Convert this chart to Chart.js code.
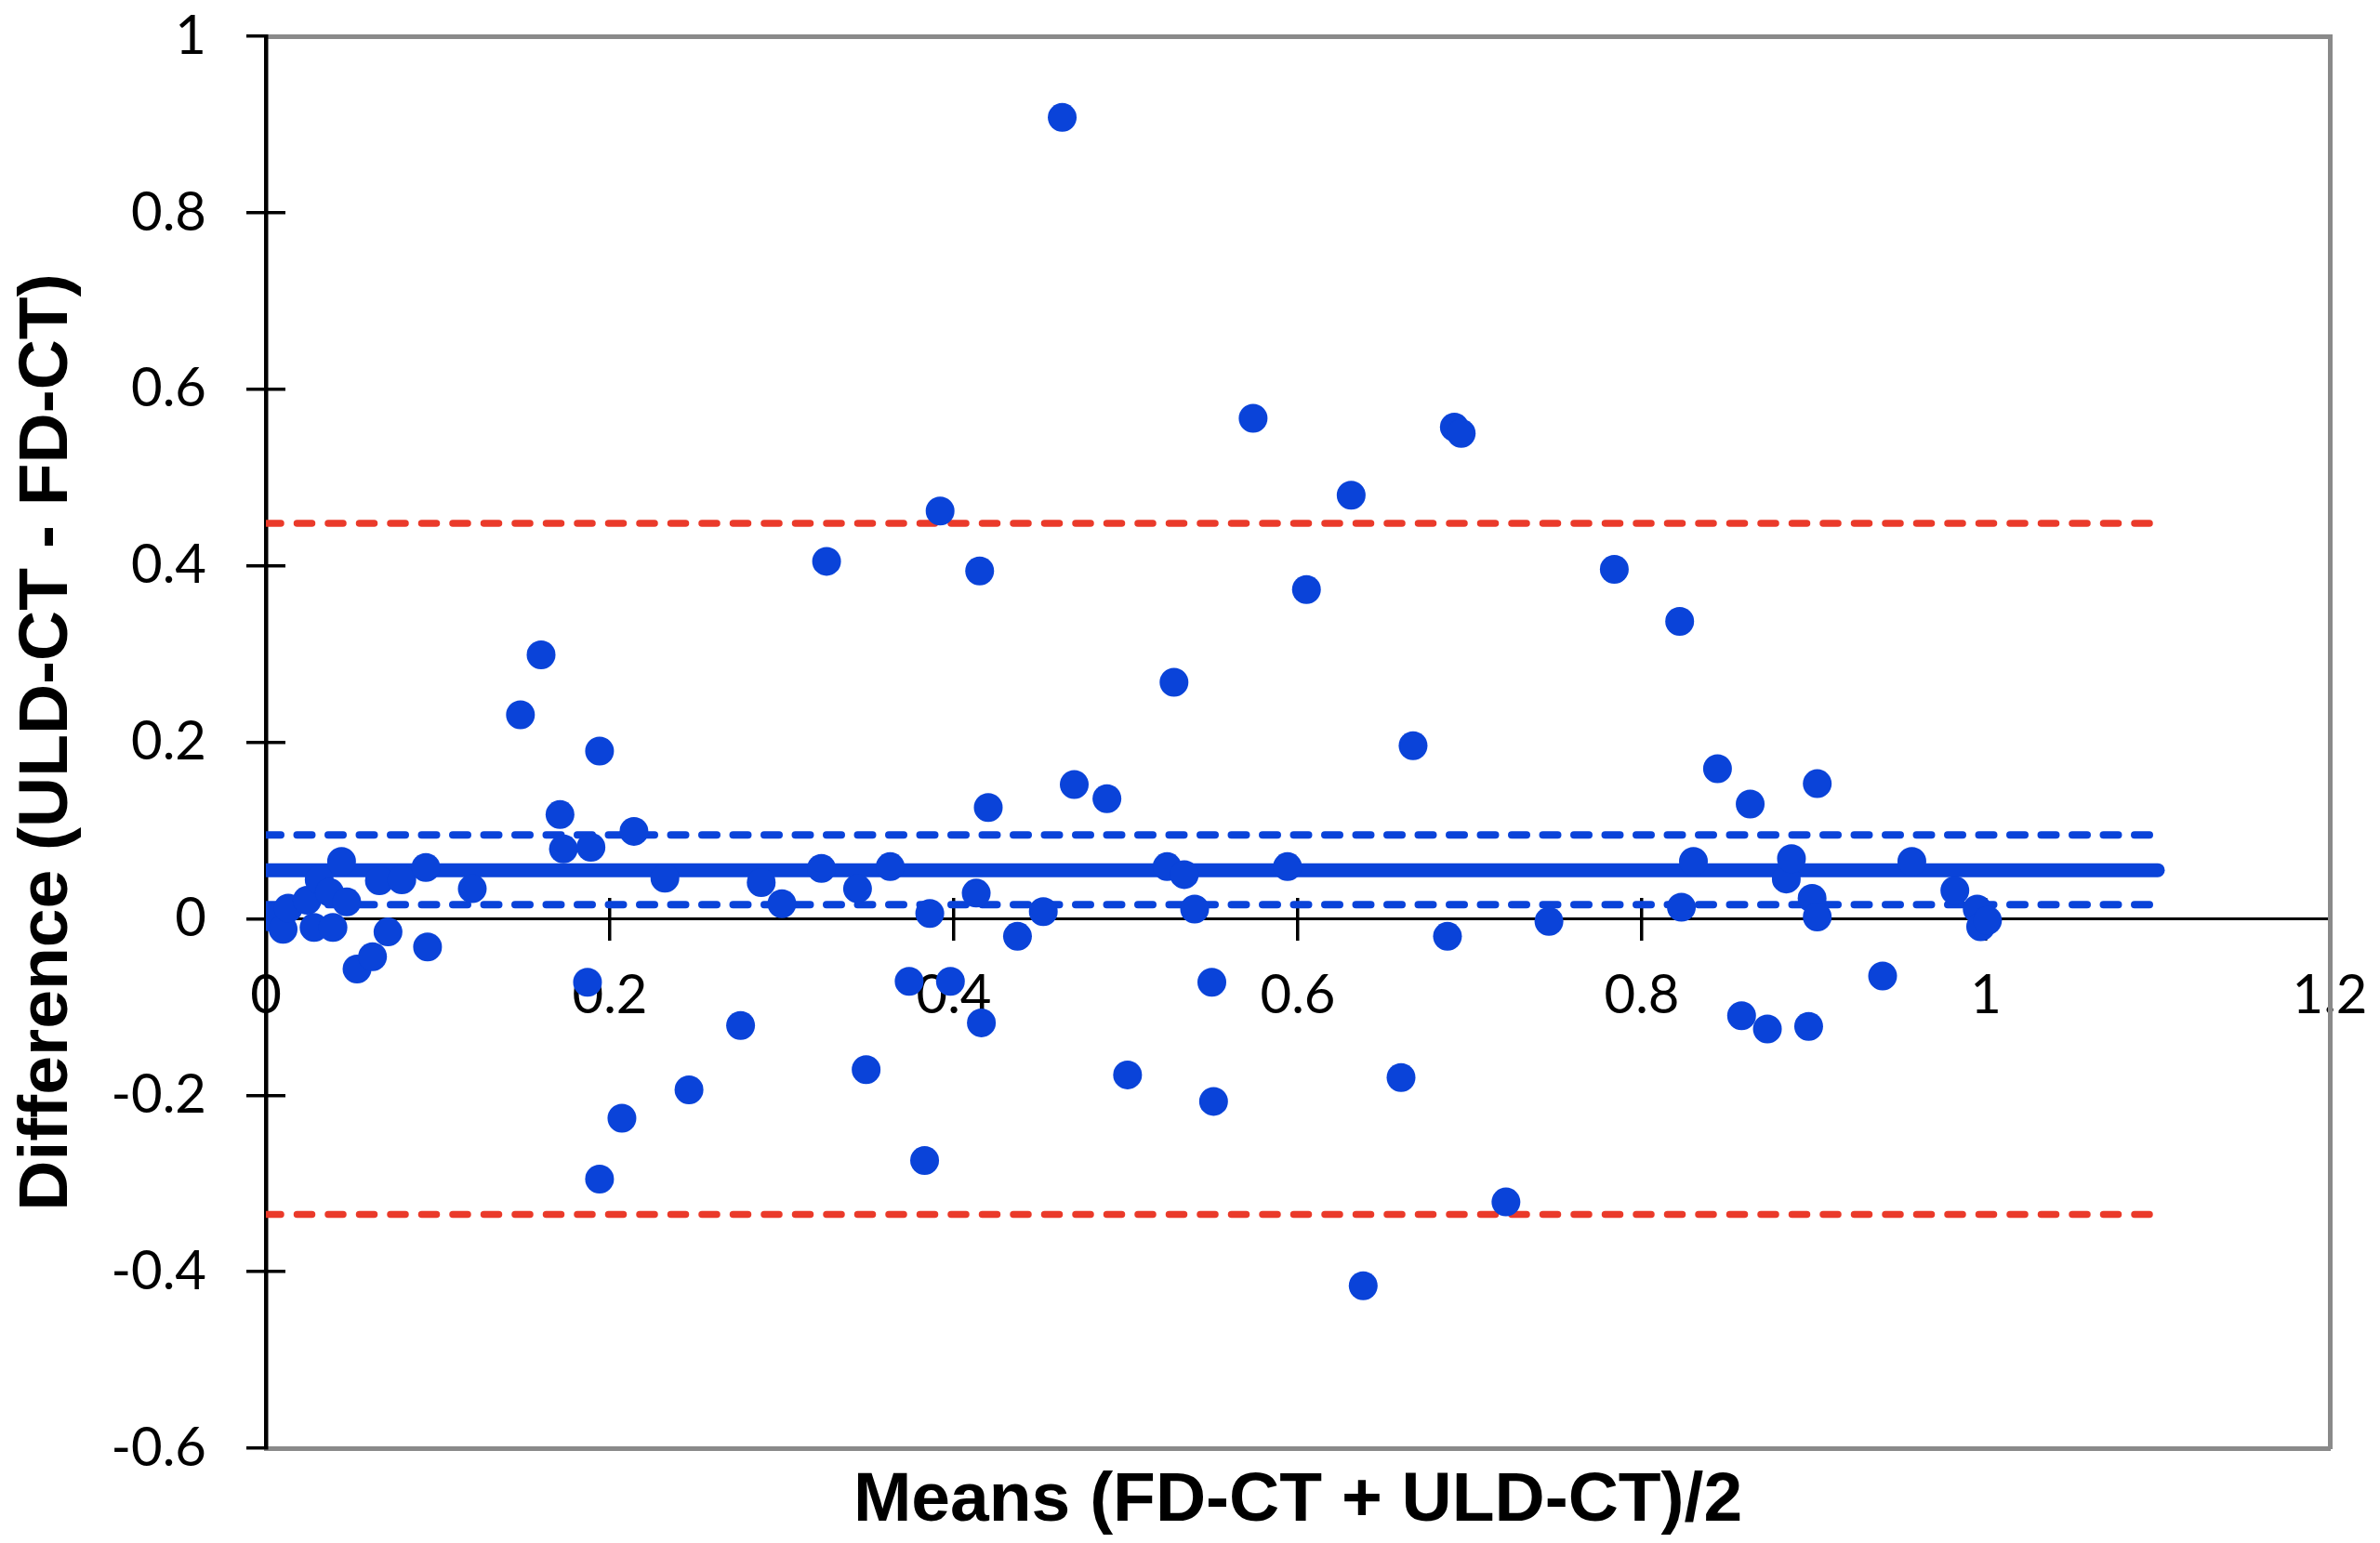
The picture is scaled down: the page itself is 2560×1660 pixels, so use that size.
<!DOCTYPE html>
<html>
<head>
<meta charset="utf-8">
<script src="https://cdn.jsdelivr.net/npm/chart.js@4.4.1/dist/chart.umd.min.js"></script>
<style>
  html, body { margin: 0; padding: 0; background: #ffffff; }
  #wrap { width: 2560px; height: 1660px; position: relative; }
  canvas { display: block; }
</style>
</head>
<body>
<div id="wrap"><canvas id="c" width="2560" height="1660"></canvas></div>
<script>
// ---- data ----
const meanValues = [
  0.002, 0.010, 0.013, 0.024, 0.028, 0.031, 0.037, 0.039, 0.044, 0.047, 0.053, 0.062, 0.066, 0.071, 0.079, 0.093, 0.094,
  0.120, 0.148, 0.160, 0.171, 0.173, 0.189, 0.187, 0.194, 0.194, 0.207, 0.214, 0.232, 0.246, 0.276, 0.288, 0.300, 0.323,
  0.326, 0.344, 0.349, 0.363, 0.374, 0.383, 0.386, 0.392, 0.398, 0.413, 0.415, 0.416, 0.420, 0.437, 0.452, 0.463, 0.470,
  0.489, 0.501, 0.524, 0.528, 0.534, 0.540, 0.550, 0.551, 0.574, 0.594, 0.605, 0.631, 0.638, 0.660, 0.667, 0.687, 0.691,
  0.695, 0.721, 0.746, 0.784, 0.822, 0.823, 0.830, 0.844, 0.858, 0.863, 0.873, 0.884, 0.887, 0.897, 0.899, 0.902, 0.902,
  0.940, 0.957, 0.982, 0.995, 0.997, 1.001
];
const diffValues = [
  0.002, -0.012, 0.012, 0.021, -0.010, 0.044, 0.030, -0.010, 0.065, 0.019, -0.057, -0.043, 0.043, -0.015, 0.044, 0.058, -0.032,
  0.034, 0.231, 0.299, 0.118, 0.079, 0.081, -0.072, 0.190, -0.295, -0.226, 0.099, 0.046, -0.194, -0.121, 0.041, 0.017, 0.057,
  0.405, 0.034, -0.171, 0.059, -0.071, -0.274, 0.006, 0.462, -0.071, 0.029, 0.394, -0.118, 0.126, -0.020, 0.008, 0.908, 0.152,
  0.136, -0.177, 0.059, 0.268, 0.050, 0.011, -0.072, -0.207, 0.567, 0.059, 0.373, 0.480, -0.416, -0.180, 0.196, -0.020, 0.557,
  0.550, -0.321, -0.003, 0.396, 0.337, 0.013, 0.065, 0.170, -0.110, 0.130, -0.125, 0.045, 0.068, -0.122, 0.023, 0.153, 0.002,
  -0.065, 0.065, 0.032, 0.011, -0.009, -0.002
];
const lineRange = [0, 1.1];          // x extent of the reference lines
const meanDiff = 0.055;               // bias
const ciUpper = 0.095;                // CI of bias (upper)
const ciLower = 0.016;                // CI of bias (lower)
const loaUpper = 0.448;               // upper limit of agreement
const loaLower = -0.335;              // lower limit of agreement

const xTickValues = [0, 0.2, 0.4, 0.6, 0.8, 1, 1.2];
const xTickLabels = ['0', '0.2', '0.4', '0.6', '0.8', '1', '1.2'];
const yTickValues = [-0.6, -0.4, -0.2, 0, 0.2, 0.4, 0.6, 0.8, 1];
const yTickLabels = ['-0.6', '-0.4', '-0.2', '0', '0.2', '0.4', '0.6', '0.8', '1'];

const xTitle = 'Means (FD-CT + ULD-CT)/2';
const yTitle = 'Difference (ULD-CT - FD-CT)';

// ---- styling ----
const BLUE = '#0a43d9';
const RED = '#ea3a2a';
const GRAY = '#8a8a8a';
const tickFont = { family: 'Lato', size: 58 };
const titleFont = { family: 'Liberation Sans', size: 75, weight: 'bold' };

const points = meanValues.map((x, i) => ({ x: x, y: diffValues[i] }));
const hLine = (v) => lineRange.map(x => ({ x: x, y: v }));

function setTicks(values) {
  return (scale) => { scale.ticks = values.map(v => ({ value: v })); };
}
function labelFrom(values, labels) {
  return (value) => {
    const i = values.findIndex(v => Math.abs(v - value) < 1e-9);
    return i >= 0 ? labels[i] : '';
  };
}
function fitBox(w, h) {
  return (s) => {
    if (w !== null) s.width = w;
    if (h !== null) s.height = h;
    s.paddingLeft = 0; s.paddingRight = 0; s.paddingTop = 0; s.paddingBottom = 0;
  };
}

function draw() {
  new Chart(document.getElementById('c'), {
    type: 'scatter',
    data: {
      datasets: [
        {
          label: 'Points', data: points, xAxisID: 'x', yAxisID: 'y', order: 0,
          backgroundColor: BLUE, borderWidth: 0, pointRadius: 15.5, pointHoverRadius: 15.5
        },
        {
          label: 'Bias', data: hLine(meanDiff), xAxisID: 'x', yAxisID: 'y', order: 1,
          showLine: true, pointRadius: 0, borderColor: BLUE, borderWidth: 15, borderCapStyle: 'round'
        },
        {
          label: 'CI upper', data: hLine(ciUpper), xAxisID: 'x', yAxisID: 'y', order: 1,
          showLine: true, pointRadius: 0, borderColor: BLUE, borderWidth: 8,
          borderDash: [16, 17.5], borderCapStyle: 'round'
        },
        {
          label: 'CI lower', data: hLine(ciLower), xAxisID: 'x', yAxisID: 'y', order: 1,
          showLine: true, pointRadius: 0, borderColor: BLUE, borderWidth: 8,
          borderDash: [16, 17.5], borderCapStyle: 'round'
        },
        {
          label: 'LoA upper', data: hLine(loaUpper), xAxisID: 'x', yAxisID: 'y', order: 1,
          showLine: true, pointRadius: 0, borderColor: RED, borderWidth: 7.5,
          borderDash: [16, 17.5], borderCapStyle: 'round'
        },
        {
          label: 'LoA lower', data: hLine(loaLower), xAxisID: 'x', yAxisID: 'y', order: 1,
          showLine: true, pointRadius: 0, borderColor: RED, borderWidth: 7.5,
          borderDash: [16, 17.5], borderCapStyle: 'round'
        }
      ]
    },
    options: {
      responsive: false,
      devicePixelRatio: 1,
      animation: false,
      events: [],
      layout: { padding: 0 },
      plugins: { legend: { display: false }, tooltip: { enabled: false } },
      scales: {
        x: {
          type: 'linear', axis: 'x', position: { y: 0 }, min: 0, max: 1.2,
          afterBuildTicks: setTicks(xTickValues),
          afterFit: fitBox(null, 0),
          ticks: { callback: labelFrom(xTickValues, xTickLabels), font: tickFont, color: '#000', padding: 26, maxRotation: 0, autoSkip: false },
          grid: { drawOnChartArea: false, drawTicks: true, tickLength: 22, color: '#000', lineWidth: 3.5 },
          border: { display: true, color: '#000', width: 3 }
        },
        xu: {
          type: 'linear', axis: 'x', position: { y: 0 }, min: 0, max: 1.2,
          afterBuildTicks: setTicks(xTickValues),
          afterFit: fitBox(null, 0),
          ticks: { display: false },
          grid: { drawOnChartArea: false, drawTicks: true, tickLength: -22, color: '#000', lineWidth: 3.5 },
          border: { display: false }
        },
        xt: {
          type: 'linear', axis: 'x', position: 'top', min: 0, max: 1.2,
          afterFit: fitBox(null, 39),
          ticks: { display: false },
          grid: { drawOnChartArea: false, drawTicks: false },
          border: { display: true, color: GRAY, width: 5 }
        },
        xb: {
          type: 'linear', axis: 'x', position: 'bottom', min: 0, max: 1.2,
          afterFit: fitBox(null, 102),
          ticks: { display: false },
          grid: { drawOnChartArea: false, drawTicks: false },
          border: { display: true, color: GRAY, width: 5 },
          title: { display: true, text: xTitle, font: titleFont, color: '#000', padding: { top: 0, bottom: 0 } }
        },
        y: {
          type: 'linear', axis: 'y', position: 'left', min: -0.6, max: 1,
          afterBuildTicks: setTicks(yTickValues),
          afterFit: fitBox(286, null),
          ticks: { callback: labelFrom(yTickValues, yTickLabels), font: tickFont, color: '#000', padding: 43, autoSkip: false },
          grid: { drawOnChartArea: false, drawTicks: true, tickLength: 21, color: '#000', lineWidth: 3.5 },
          border: { display: true, color: '#000', width: 4.5 },
          title: { display: true, text: yTitle, font: titleFont, color: '#000', padding: { top: 6, bottom: 0 } }
        },
        yh: {
          type: 'linear', axis: 'y', position: { x: 0 }, min: -0.6, max: 1,
          afterBuildTicks: setTicks(yTickValues),
          afterFit: fitBox(0, null),
          ticks: { display: false },
          grid: { drawOnChartArea: false, drawTicks: true, tickLength: -21, color: '#000', lineWidth: 3.5 },
          border: { display: false }
        },
        yr: {
          type: 'linear', axis: 'y', position: 'right', min: -0.6, max: 1,
          afterFit: fitBox(54, null),
          ticks: { display: false },
          grid: { drawOnChartArea: false, drawTicks: false },
          border: { display: true, color: GRAY, width: 5 }
        }
      }
    }
  });
}

const fontLoads = [
  document.fonts.load('58px Lato'),
  document.fonts.load('bold 75px "Liberation Sans"')
];
Promise.all(fontLoads).then(draw, draw);
</script>
</body>
</html>
